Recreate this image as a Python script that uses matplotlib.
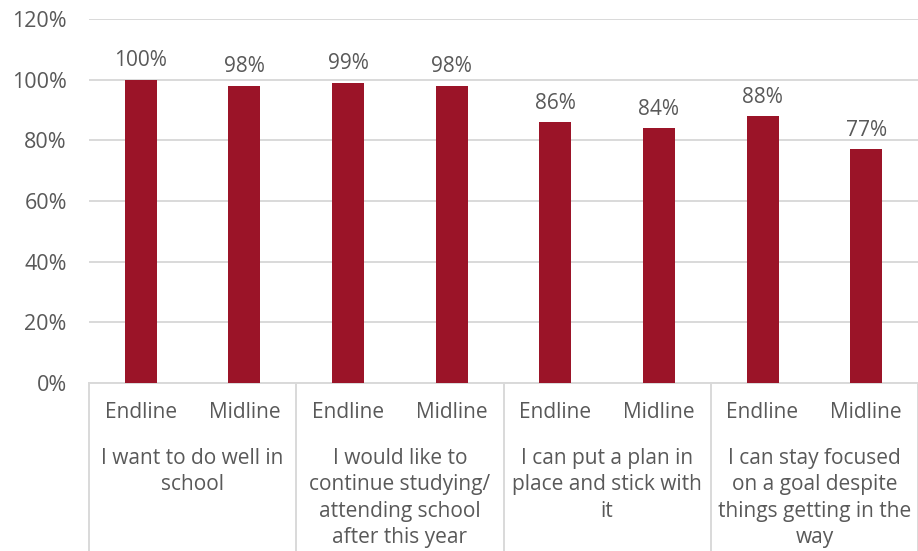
import matplotlib
matplotlib.use("Agg")
import matplotlib.pyplot as plt
from matplotlib.transforms import blended_transform_factory
import numpy as np

plt.rcParams['font.family'] = ['Open Sans', 'DejaVu Sans']

statements = [
    "I want to do well in\nschool",
    "I would like to\ncontinue studying/\nattending school\nafter this year",
    "I can put a plan in\nplace and stick with\nit",
    "I can stay focused\non a goal despite\nthings getting in the\nway",
]
rounds = ["Endline", "Midline"]
values = [100, 98, 99, 98, 86, 84, 88, 77]
value_labels = ["100%", "98%", "99%", "98%", "86%", "84%", "88%", "77%"]
y_ticks = [0, 20, 40, 60, 80, 100, 120]

W, H = 918, 551
fig = plt.figure(figsize=(W / 100, H / 100), dpi=100)
left_px, right_px, bottom_px, top_px = 89, 918, 383, 19
ax = fig.add_axes([left_px / W, 1 - bottom_px / H,
                   (right_px - left_px) / W, (bottom_px - top_px) / H])

text_color = "#595959"
bar_color = "#9B1428"
grid_color = "#D9D9D9"
fs = 15

x = np.arange(len(values))
ax.bar(x, values, width=0.31, color=bar_color, zorder=3)
ax.set_xlim(-0.5, len(values) - 0.5)
ax.set_ylim(0, 120)
ax.set_yticks(y_ticks)
ax.set_yticklabels([f"{t}%" for t in y_ticks], fontsize=15.5, color=text_color)
ax.tick_params(axis='y', length=0, pad=16)
ax.tick_params(axis='x', length=0, labelbottom=False)
ax.yaxis.grid(True, color=grid_color, linewidth=1.4, zorder=0)
for s in ["top", "right", "left"]:
    ax.spines[s].set_visible(False)
ax.spines["bottom"].set_color(grid_color)
ax.spines["bottom"].set_linewidth(1.4)

for xi, v, lab in zip(x, values, value_labels):
    ax.annotate(lab, (xi, v), xytext=(0, 6), textcoords="offset points",
                ha="center", va="bottom", fontsize=fs, color=text_color)

# multi-level category axis
trans = blended_transform_factory(ax.transData, fig.transFigure)
for i, xi in enumerate(x):
    ax.text(xi, 1 - 412 / H, rounds[i % 2], transform=trans, ha="center",
            va="center", fontsize=fs, color=text_color)
for g, st in enumerate(statements):
    ax.text(2 * g + 0.5, 1 - 448 / H, st, transform=trans, ha="center",
            va="top", fontsize=fs, color=text_color, linespacing=1.33)
for g in range(len(statements) + 1):
    ax.plot([2 * g - 0.5, 2 * g - 0.5], [1 - bottom_px / H, 0], transform=trans,
            color=grid_color, linewidth=1.4, clip_on=False)

fig.savefig("out.png", dpi=100)
